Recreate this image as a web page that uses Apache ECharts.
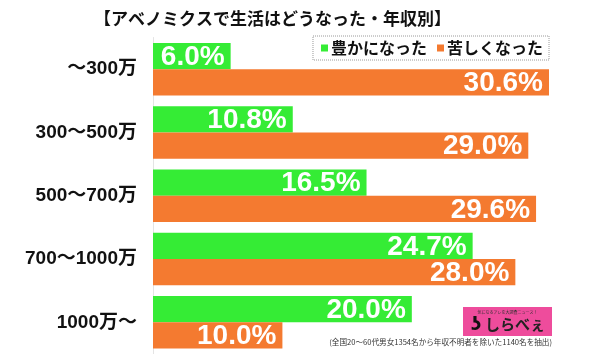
<!DOCTYPE html>
<html>
<head>
<meta charset="utf-8">
<script src="https://cdn.jsdelivr.net/npm/echarts@6/dist/echarts.min.js"></script>
<style>
  html, body { margin: 0; padding: 0; background: #fff; }
  #chart { width: 600px; height: 354px; }
</style>
</head>
<body>
<div id="chart"></div>
<script>
// 年収カテゴリ
const categories = ["～300万", "300～500万", "500～700万", "700～1000万", "1000万～"];
// 豊かになった
const richer = [6.0, 10.8, 16.5, 24.7, 20.0];
// 苦しくなった
const harder = [30.6, 29.0, 29.6, 28.0, 10.0];
const seriesNames = ["豊かになった", "苦しくなった"];

const GREEN = "#35ec35";
const ORANGE = "#f47a30";

let myCharts = echarts.init(document.getElementById("chart"));

const barLabel = {
  show: true,
  position: "insideRight",
  distance: 6,
  offset: [0, 1],
  color: "#fff",
  fontFamily: "Liberation Sans",
  fontWeight: "bold",
  fontSize: 28,
  formatter: (p) => p.value.toFixed(1) + "%",
};

let option = {
  animation: false,
  backgroundColor: "#fff",
  // タイトル
  title: {
    text: "【アベノミクスで生活はどうなった・年収別】",
    left: 89,
    top: 5,
    textStyle: {
      fontFamily: "Noto Sans CJK JP",
      fontWeight: "bold",
      fontSize: 17,
      color: "#111",
    },
  },
  // 凡例
  legend: {
    data: seriesNames,
    right: 51,
    top: 36,
    icon: "rect",
    itemWidth: 7,
    itemHeight: 7,
    itemGap: 10,
    padding: [4, 6, 4, 8],
    borderColor: "#999",
    borderWidth: 1,
    borderType: "dotted",
    backgroundColor: "#fff",
    textStyle: {
      fontFamily: "Noto Sans CJK JP",
      fontWeight: "bold",
      fontSize: 16,
      color: "#111",
      padding: [0, 0, 0, -2],
    },
  },
  grid: {
    left: 153,
    top: 37.5,
    width: 440,
    height: 320,
  },
  xAxis: {
    type: "value",
    min: 0,
    max: 34,
    show: false,
  },
  yAxis: {
    type: "category",
    data: categories,
    inverse: true,
    axisTick: { show: false },
    axisLine: { show: true, lineStyle: { color: "#e4e4e4", width: 1 } },
    axisLabel: {
      margin: 16,
      color: "#111",
      fontFamily: "Liberation Sans, Noto Sans CJK JP",
      fontWeight: "bold",
      fontSize: 19,
    },
  },
  series: [
    {
      name: seriesNames[0],
      type: "bar",
      data: richer,
      barGap: "0%",
      barCategoryGap: "17%",
      itemStyle: { color: GREEN },
      label: barLabel,
      z: 3,
    },
    {
      name: seriesNames[1],
      type: "bar",
      data: harder,
      barGap: "0%",
      barCategoryGap: "17%",
      itemStyle: { color: ORANGE },
      label: barLabel,
      z: 3,
    },
  ],
  // ロゴと注記
  graphic: [
    {
      type: "group",
      left: 463,
      top: 307,
      z: 10,
      children: [
        { type: "rect", shape: { x: 0, y: 0, width: 89, height: 29 }, style: { fill: "#ee4c9c" } },
        {
          type: "text",
          x: 44.5,
          y: 3,
          style: {
            text: "気になるアレを大調査ニュース！",
            fill: "#333",
            fontSize: 4,
            align: "center",
            fontFamily: "Noto Sans CJK JP",
          },
        },
        {
          type: "text",
          x: 8,
          y: 9,
          style: {
            text: "ʖ",
            fill: "#111",
            fontSize: 18,
            fontWeight: "bold",
            fontFamily: "DejaVu Sans",
          },
        },
        {
          type: "text",
          x: 22,
          y: 10,
          style: {
            text: "しらべぇ",
            fill: "#222",
            fontSize: 15,
            fontWeight: "bold",
            fontFamily: "Noto Sans CJK JP",
          },
        },
      ],
    },
    {
      type: "text",
      right: 48,
      top: 338,
      z: 10,
      style: {
        text: "(全国20～60代男女1354名から年収不明者を除いた1140名を抽出)",
        fill: "#333",
        fontSize: 7.6,
        fontFamily: "Noto Sans CJK JP",
      },
    },
  ],
};

myCharts.setOption(option);
</script>
</body>
</html>
